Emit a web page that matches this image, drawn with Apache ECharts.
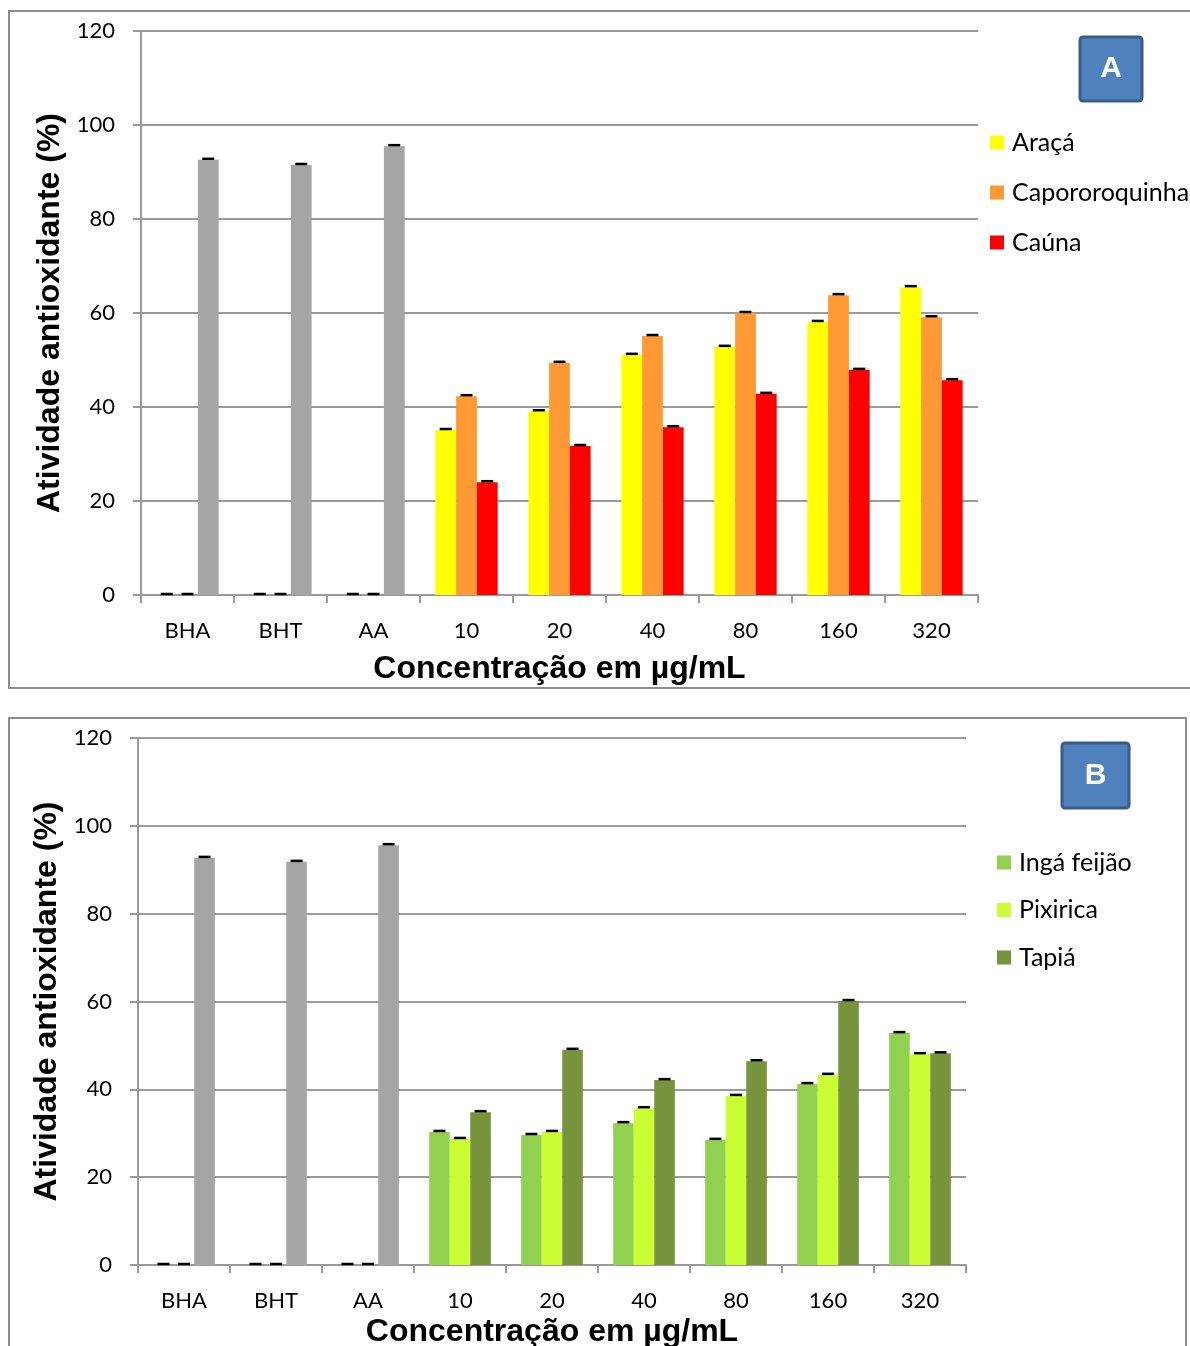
<!DOCTYPE html>
<html>
<head>
<meta charset="utf-8">
<script src="https://cdn.jsdelivr.net/npm/echarts@6/dist/echarts.min.js"></script>
<style>
  html, body { margin: 0; padding: 0; background: #fff; }
  #chart { width: 1190px; height: 1346px; }
</style>
</head>
<body>
<div id="chart"></div>
<script>
// categorias (padrões + concentrações)
var categories = ["BHA", "BHT", "AA", "10", "20", "40", "80", "160", "320"];
var yTicks = [0, 20, 40, 60, 80, 100, 120];

// painel A
var namesA = ["Araçá", "Capororoquinha", "Caúna"];
var aracaA = [0, 0, 0, 35.1, 39.1, 51.1, 52.8, 58.1, 65.5];
var caporoA = [0, 0, 0, 42.3, 49.4, 55.1, 60.0, 63.8, 59.1];
var caunaA = [92.6, 91.5, 95.5, 24.0, 31.7, 35.7, 42.8, 47.9, 45.7];

// painel B
var namesB = ["Ingá feijão", "Pixirica", "Tapiá"];
var ingaB = [0, 0, 0, 30.3, 29.6, 32.3, 28.5, 41.2, 52.8];
var pixiricaB = [0, 0, 0, 28.7, 30.3, 35.7, 38.5, 43.3, 48.0];
var tapiaB = [92.7, 91.8, 95.6, 34.8, 49.0, 42.1, 46.4, 60.1, 48.2];

var colorsA = ["#ffff00", "#ff9933", "#ff0000"];
var colorsB = ["#92d050", "#ccff33", "#77933c"];
var gray = "#a5a5a5";
var nStandards = 3;

var labelFont = "Lato";
var titleFont = "Liberation Sans";
var gridColor = "#9a9a9a";

function barData(values, colorIdx) {
  // os padrões (BHA, BHT, AA) ficam em cinza
  return values.map(function (v, i) {
    if (colorIdx === 2 && i < nStandards) {
      return { value: v, itemStyle: { color: gray } };
    }
    return v;
  });
}

function errorSeries(values, k, gi) {
  return {
    type: "custom",
    name: "err" + gi + k,
    xAxisIndex: gi,
    yAxisIndex: gi,
    z: 10,
    silent: true,
    data: values.map(function (v, i) { return [i, v]; }),
    encode: { x: 0, y: 1 },
    renderItem: function (params, api) {
      var p = api.coord([api.value(0), api.value(1)]);
      var band = api.size([1, 0])[0];
      var bw = band * 0.67 / 3;
      var cx = p[0] + (k - 1) * bw;
      return {
        type: "line",
        shape: { x1: cx - 6, y1: p[1] - 1, x2: cx + 6, y2: p[1] - 1 },
        style: { stroke: "#000", lineWidth: 2.5 }
      };
    }
  };
}

function xAxisFor(gi, nameGap, labelMargin) {
  return {
    type: "category",
    gridIndex: gi,
    data: categories,
    name: "Concentração em µg/mL",
    nameLocation: "middle",
    nameGap: nameGap,
    nameTextStyle: { fontFamily: titleFont, fontWeight: "bold", fontSize: 32, color: "#000" },
    axisLine: { lineStyle: { color: gridColor, width: 2 } },
    axisTick: { show: true, length: 8, lineStyle: { color: gridColor, width: 2 } },
    axisLabel: { fontFamily: labelFont, fontSize: 22, color: "#000", margin: labelMargin }
  };
}

function yAxisFor(gi, nameGap) {
  return {
    type: "value",
    gridIndex: gi,
    min: yTicks[0],
    max: yTicks[yTicks.length - 1],
    interval: yTicks[1] - yTicks[0],
    name: "Atividade antioxidante (%)",
    nameLocation: "middle",
    nameGap: nameGap,
    nameTextStyle: { fontFamily: titleFont, fontWeight: "bold", fontSize: 32, color: "#000" },
    axisLine: { show: true, lineStyle: { color: gridColor, width: 2 } },
    axisTick: { show: true, length: 8, lineStyle: { color: gridColor, width: 2 } },
    axisLabel: { fontFamily: labelFont, fontSize: 22, color: "#000", margin: 26 },
    splitLine: { lineStyle: { color: gridColor, width: 2 } }
  };
}

var seriesA = [aracaA, caporoA, caunaA];
var seriesB = [ingaB, pixiricaB, tapiaB];
var series = [];
[[seriesA, namesA, colorsA], [seriesB, namesB, colorsB]].forEach(function (set, gi) {
  set[0].forEach(function (vals, k) {
    series.push({
      type: "bar",
      name: set[1][k],
      xAxisIndex: gi,
      yAxisIndex: gi,
      barGap: "0%",
      barCategoryGap: "33%",
      itemStyle: { color: set[2][k] },
      data: barData(vals, k)
    });
  });
  set[0].forEach(function (vals, k) {
    series.push(errorSeries(vals, k, gi));
  });
});

function boxA(x, y, w, h, letter) {
  return [
    {
      type: "rect",
      shape: { x: x, y: y, width: w, height: h, r: 3 },
      style: { fill: "#4f81bd", stroke: "#385d8a", lineWidth: 3 }
    },
    {
      type: "text",
      x: x + w / 2,
      y: y + h / 2,
      style: {
        text: letter, fill: "#fff", font: "bold 30px 'Liberation Sans'",
        align: "center", verticalAlign: "middle"
      }
    }
  ];
}

var chart = echarts.init(document.getElementById("chart"));
var option = {
  animation: false,
  backgroundColor: "#fff",
  grid: [
    { left: 141, top: 31, width: 837, height: 564, outerBoundsMode: "none" },
    { left: 138, top: 738, width: 828, height: 527, outerBoundsMode: "none" }
  ],
  legend: [
    {
      data: namesA, orient: "vertical", left: 985, top: 125,
      itemWidth: 14, itemHeight: 14, itemGap: 25, icon: "rect",
      textStyle: { fontFamily: labelFont, fontSize: 25, color: "#000", padding: [0, 0, 0, 3] }
    },
    {
      data: namesB, orient: "vertical", left: 992, top: 845,
      itemWidth: 14, itemHeight: 14, itemGap: 22.5, icon: "rect",
      textStyle: { fontFamily: labelFont, fontSize: 25, color: "#000", padding: [0, 0, 0, 3] }
    }
  ],
  xAxis: [xAxisFor(0, 58, 25), xAxisFor(1, 51, 25)],
  yAxis: [yAxisFor(0, 75), yAxisFor(1, 72)],
  series: series,
  graphic: [
    {
      type: "rect", silent: true,
      shape: { x: 9, y: 11, width: 1200, height: 677 },
      style: { fill: null, stroke: "#8c8c8c", lineWidth: 2 }
    },
    {
      type: "rect", silent: true,
      shape: { x: 9, y: 718, width: 1177, height: 700 },
      style: { fill: null, stroke: "#8c8c8c", lineWidth: 2 }
    }
  ].concat(boxA(1080, 37, 62, 64, "A")).concat(boxA(1062, 743, 67, 65, "B"))
};
chart.setOption(option);
</script>
</body>
</html>
